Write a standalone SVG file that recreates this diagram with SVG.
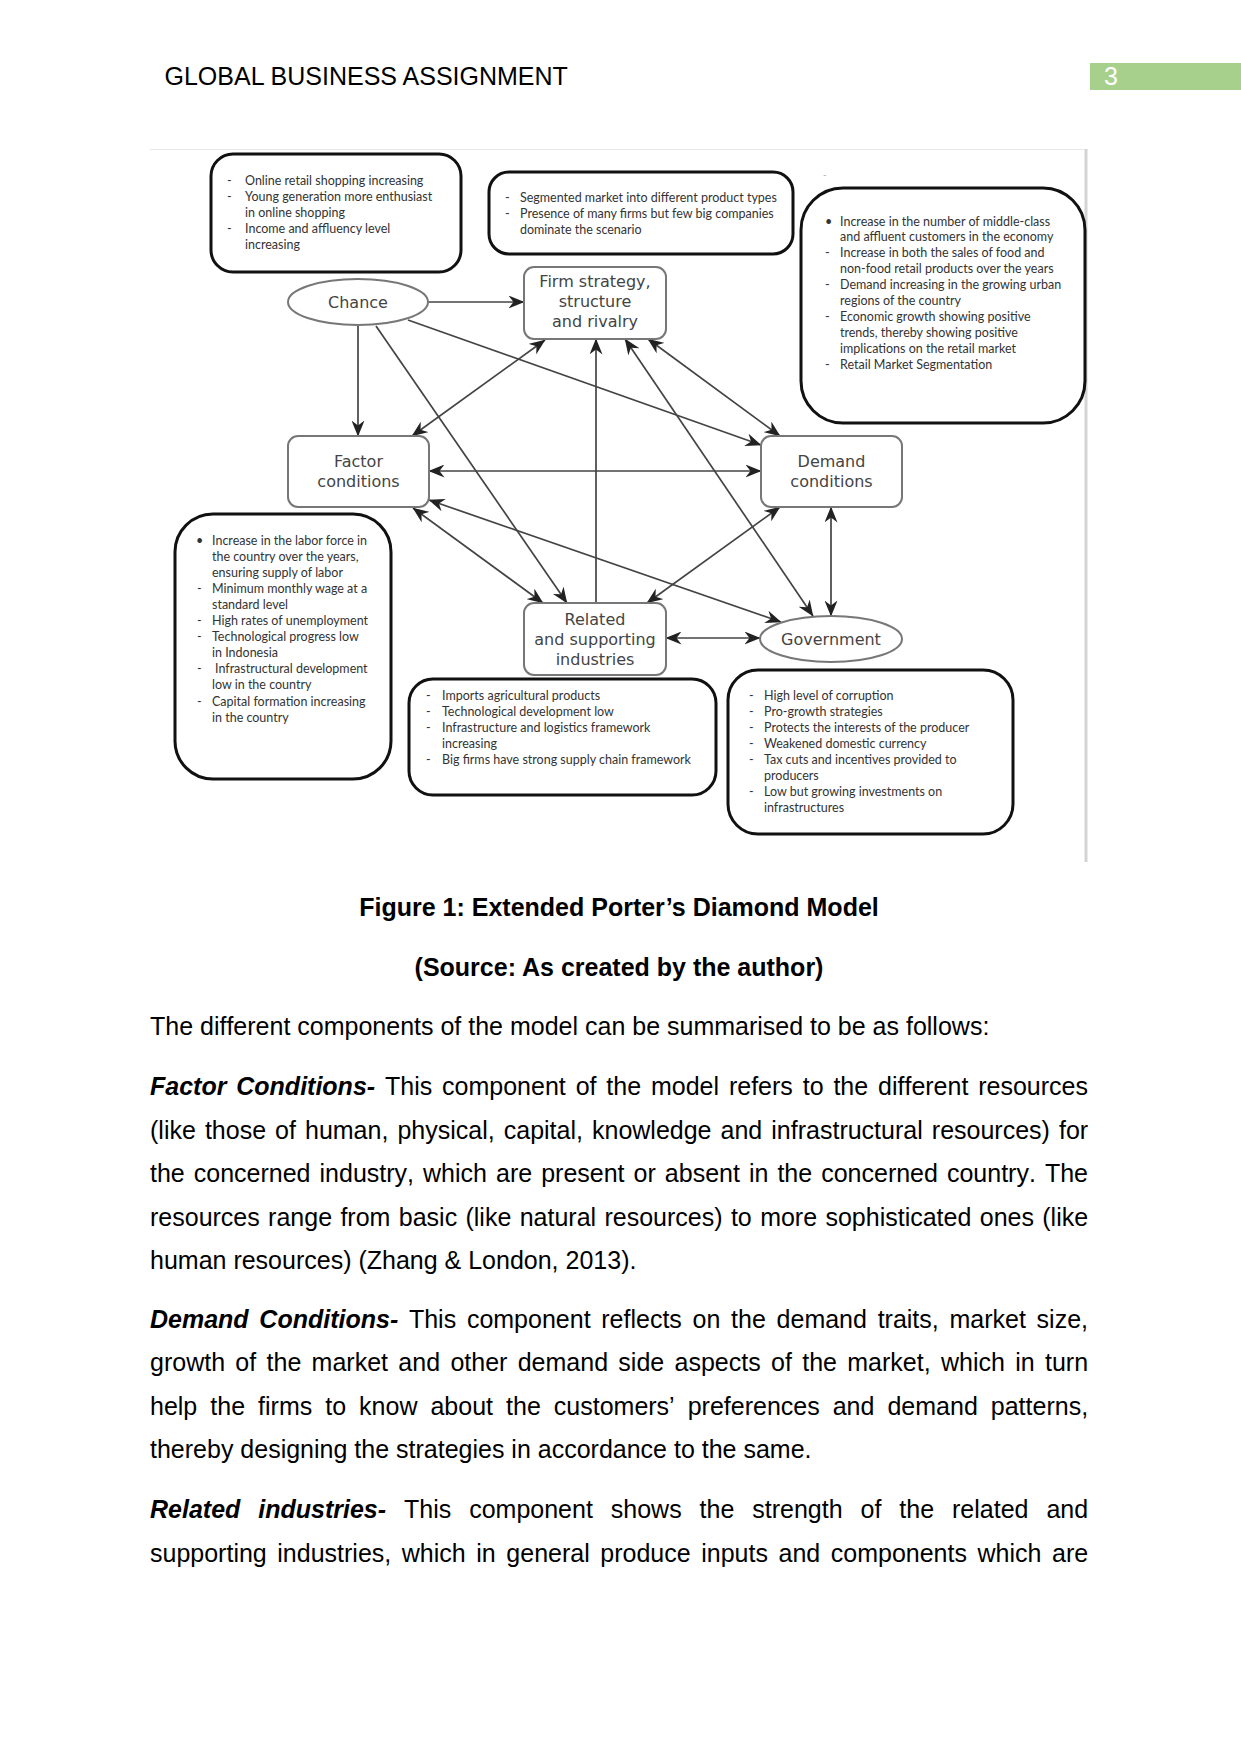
<svg xmlns="http://www.w3.org/2000/svg" width="1241" height="1754" viewBox="0 0 1241 1754">
<style>
.hdr{font-family:"Liberation Sans",Arial,sans-serif;font-size:25px;fill:#000}
.body{font-family:"Liberation Sans",Arial,sans-serif;font-size:25px;fill:#000;font-kerning:none}
.bi{font-weight:bold;font-style:italic}
.cap{font-family:"Liberation Sans",Arial,sans-serif;font-size:25px;font-weight:bold;fill:#000;text-anchor:middle}
.box{fill:#fff;stroke:#111;stroke-width:3}
.node{fill:#fff;stroke:#777;stroke-width:2}
.lbl{font-family:"DejaVu Sans",sans-serif;font-size:16px;fill:#444;text-anchor:middle}
.bt{font-family:Lato,"Liberation Sans",sans-serif;font-size:12.5px;fill:#333}
.con{stroke:#444;stroke-width:1.7;fill:none}
</style>
<defs>
<marker id="ah" viewBox="0 0 16 13" refX="15.5" refY="6.5" markerWidth="16" markerHeight="13" markerUnits="userSpaceOnUse" orient="auto-start-reverse">
<path d="M0,0 L16,6.5 L0,13 L5,6.5 z" fill="#222"/>
</marker>
</defs>
<rect width="1241" height="1754" fill="#fff"/>

<!-- header -->
<text class="hdr" x="164.5" y="85">GLOBAL BUSINESS ASSIGNMENT</text>
<rect x="1090" y="63" width="151" height="27" fill="#a8d08d"/>
<text x="1104" y="85" font-family="Liberation Sans,Arial,sans-serif" font-size="25" fill="#fff">3</text>

<!-- figure frame -->
<line x1="150" y1="149.5" x2="1086" y2="149.5" stroke="#e8e8e8" stroke-width="1"/>
<line x1="1086" y1="149" x2="1086" y2="862" stroke="#d4d4d4" stroke-width="3"/>

<!-- detail boxes -->
<g id="box-online">
<rect class="box" x="211" y="154" width="250" height="118" rx="22"/>
<text class="bt"><tspan x="227" y="184.5">-</tspan><tspan x="245" y="184.5">Online retail shopping increasing</tspan><tspan x="227" y="200.7">-</tspan><tspan x="245" y="200.7">Young generation more enthusiast</tspan><tspan x="245" y="216.9">in online shopping</tspan><tspan x="227" y="233.1">-</tspan><tspan x="245" y="233.1">Income and affluency level</tspan><tspan x="245" y="249.3">increasing</tspan></text>
</g>
<g id="box-segmented">
<rect class="box" x="489" y="172" width="304" height="82" rx="20"/>
<text class="bt"><tspan x="505" y="201.5">-</tspan><tspan x="520" y="201.5">Segmented market into different product types</tspan><tspan x="505" y="218">-</tspan><tspan x="520" y="218">Presence of many firms but few big companies</tspan><tspan x="520" y="234">dominate the scenario</tspan></text>
</g>
<text x="823" y="178" font-family="Lato,sans-serif" font-size="10" fill="#aaa">-</text>
<g id="box-demand-details">
<rect class="box" x="801" y="188" width="284" height="235" rx="42"/>
<text class="bt"><tspan x="825" y="225.5">•</tspan><tspan x="840" y="225.5">Increase in the  number of middle-class</tspan><tspan x="840" y="241.4">and affluent customers in the economy</tspan><tspan x="825" y="257.3">-</tspan><tspan x="840" y="257.3">Increase in both the sales of food and</tspan><tspan x="840" y="273.2">non-food retail products over the years</tspan><tspan x="825" y="289.1">-</tspan><tspan x="840" y="289.1">Demand increasing in the growing urban</tspan><tspan x="840" y="305">regions of the country</tspan><tspan x="825" y="320.9">-</tspan><tspan x="840" y="320.9">Economic growth showing positive</tspan><tspan x="840" y="336.8">trends, thereby showing positive</tspan><tspan x="840" y="352.7">implications on the retail market</tspan><tspan x="825" y="368.6">-</tspan><tspan x="840" y="368.6">Retail Market Segmentation</tspan></text>
</g>
<g id="box-factor-details">
<rect class="box" x="175" y="514" width="216" height="265" rx="38"/>
<text class="bt"><tspan x="196" y="544.5">•</tspan><tspan x="212" y="544.5">Increase in the labor force in</tspan><tspan x="212" y="560.6">the country over the years,</tspan><tspan x="212" y="576.7">ensuring supply of labor</tspan><tspan x="197" y="592.8">-</tspan><tspan x="212" y="592.8">Minimum monthly wage at a</tspan><tspan x="212" y="608.9">standard level</tspan><tspan x="197" y="625">-</tspan><tspan x="212" y="625">High rates of unemployment</tspan><tspan x="197" y="641.1">-</tspan><tspan x="212" y="641.1">Technological progress low</tspan><tspan x="212" y="657.2">in Indonesia</tspan><tspan x="197" y="673.3">-</tspan><tspan x="215" y="673.3">Infrastructural development</tspan><tspan x="212" y="689.4">low in the country</tspan><tspan x="197" y="705.5">-</tspan><tspan x="212" y="705.5">Capital formation increasing</tspan><tspan x="212" y="721.6">in the country</tspan></text>
</g>
<g id="box-related-details">
<rect class="box" x="409" y="679" width="307" height="116" rx="24"/>
<text class="bt"><tspan x="426" y="699.5">-</tspan><tspan x="442" y="699.5">Imports agricultural products</tspan><tspan x="426" y="715.7">-</tspan><tspan x="442" y="715.7">Technological development low</tspan><tspan x="426" y="731.9">-</tspan><tspan x="442" y="731.9">Infrastructure and logistics framework</tspan><tspan x="442" y="748.1">increasing</tspan><tspan x="426" y="764.3">-</tspan><tspan x="442" y="764.3">Big firms have strong supply chain framework</tspan></text>
</g>
<g id="box-government-details">
<rect class="box" x="728" y="670" width="285" height="164" rx="30"/>
<text class="bt"><tspan x="749" y="699.5">-</tspan><tspan x="764" y="699.5">High level of corruption</tspan><tspan x="749" y="715.6">-</tspan><tspan x="764" y="715.6">Pro-growth strategies</tspan><tspan x="749" y="731.7">-</tspan><tspan x="764" y="731.7">Protects the interests of the producer</tspan><tspan x="749" y="747.8">-</tspan><tspan x="764" y="747.8">Weakened domestic  currency</tspan><tspan x="749" y="763.9">-</tspan><tspan x="764" y="763.9">Tax cuts and incentives provided to</tspan><tspan x="764" y="780">producers</tspan><tspan x="749" y="796.1">-</tspan><tspan x="764" y="796.1">Low but growing investments on</tspan><tspan x="764" y="812.2">infrastructures</tspan></text>
</g>

<!-- connectors -->
<g id="connectors" class="con">
<line x1="428" y1="302" x2="524" y2="302" marker-end="url(#ah)"/>
<line x1="358" y1="325" x2="358" y2="436" marker-end="url(#ah)"/>
<line x1="376" y1="326" x2="567" y2="603" marker-end="url(#ah)"/>
<line x1="408" y1="320" x2="761" y2="445" marker-end="url(#ah)"/>
<line x1="412" y1="436" x2="545" y2="340" marker-start="url(#ah)" marker-end="url(#ah)"/>
<line x1="596" y1="603" x2="596" y2="339" marker-end="url(#ah)"/>
<line x1="625" y1="339" x2="813" y2="616" marker-start="url(#ah)" marker-end="url(#ah)"/>
<line x1="648" y1="339" x2="780" y2="436" marker-start="url(#ah)" marker-end="url(#ah)"/>
<line x1="429" y1="471" x2="761" y2="471" marker-start="url(#ah)" marker-end="url(#ah)"/>
<line x1="429" y1="500" x2="781" y2="622" marker-start="url(#ah)" marker-end="url(#ah)"/>
<line x1="413" y1="508" x2="543" y2="603" marker-start="url(#ah)" marker-end="url(#ah)"/>
<line x1="780" y1="507" x2="647" y2="603" marker-start="url(#ah)" marker-end="url(#ah)"/>
<line x1="831" y1="507" x2="831" y2="616" marker-start="url(#ah)" marker-end="url(#ah)"/>
<line x1="666" y1="638" x2="760" y2="638" marker-start="url(#ah)" marker-end="url(#ah)"/>
</g>

<!-- nodes -->
<g id="chance">
<ellipse class="node" cx="358" cy="302" rx="70" ry="23"/>
<text class="lbl" x="358" y="308">Chance</text>
</g>
<g id="firm">
<rect class="node" x="524" y="267" width="142" height="72" rx="10"/>
<text class="lbl"><tspan x="595" y="287">Firm strategy,</tspan><tspan x="595" y="307">structure</tspan><tspan x="595" y="326.5">and rivalry</tspan></text>
</g>
<g id="factor">
<rect class="node" x="288" y="436" width="141" height="71" rx="10"/>
<text class="lbl"><tspan x="358.5" y="467">Factor</tspan><tspan x="358.5" y="487">conditions</tspan></text>
</g>
<g id="demand">
<rect class="node" x="761" y="436" width="141" height="71" rx="10"/>
<text class="lbl"><tspan x="831.5" y="467">Demand</tspan><tspan x="831.5" y="487">conditions</tspan></text>
</g>
<g id="related">
<rect class="node" x="524" y="603" width="142" height="72" rx="10"/>
<text class="lbl"><tspan x="595" y="625">Related</tspan><tspan x="595" y="645">and supporting</tspan><tspan x="595" y="665">industries</tspan></text>
</g>
<g id="government">
<ellipse class="node" cx="831" cy="639" rx="71" ry="23"/>
<text class="lbl" x="831" y="644.5">Government</text>
</g>

<!-- caption -->
<text class="cap" x="619" y="916">Figure 1: Extended Porter’s Diamond Model</text>
<text class="cap" x="619" y="976">(Source: As created by the author)</text>

<!-- body -->
<text class="body" x="150" y="1035">The different components of the model can be summarised to be as follows:</text>
<text class="body" x="150" y="1095" word-spacing="2.92"><tspan class="bi">Factor Conditions-</tspan> This component of the model refers to the different resources</text>
<text class="body" x="150" y="1138.5" word-spacing="2.1">(like those of human, physical, capital, knowledge and infrastructural resources) for</text>
<text class="body" x="150" y="1182" word-spacing="2.08">the concerned industry, which are present or absent in the concerned country. The</text>
<text class="body" x="150" y="1225.5" word-spacing="1.41">resources range from basic (like natural resources) to more sophisticated ones (like</text>
<text class="body" x="150" y="1269">human resources) (Zhang &amp; London, 2013).</text>
<text class="body" x="150" y="1327.5" word-spacing="3.77"><tspan class="bi">Demand Conditions-</tspan> This component reflects on the demand traits, market size,</text>
<text class="body" x="150" y="1371" word-spacing="3.38">growth of the market and other demand side aspects of the market, which in turn</text>
<text class="body" x="150" y="1414.5" word-spacing="6.07">help the firms to know about the customers’ preferences and demand patterns,</text>
<text class="body" x="150" y="1458">thereby designing the strategies in accordance to the same.</text>
<text class="body" x="150" y="1518" word-spacing="10.99"><tspan class="bi">Related industries-</tspan> This component shows the strength of the related and</text>
<text class="body" x="150" y="1561.5" word-spacing="3.62">supporting industries, which in general produce inputs and components which are</text>
</svg>
